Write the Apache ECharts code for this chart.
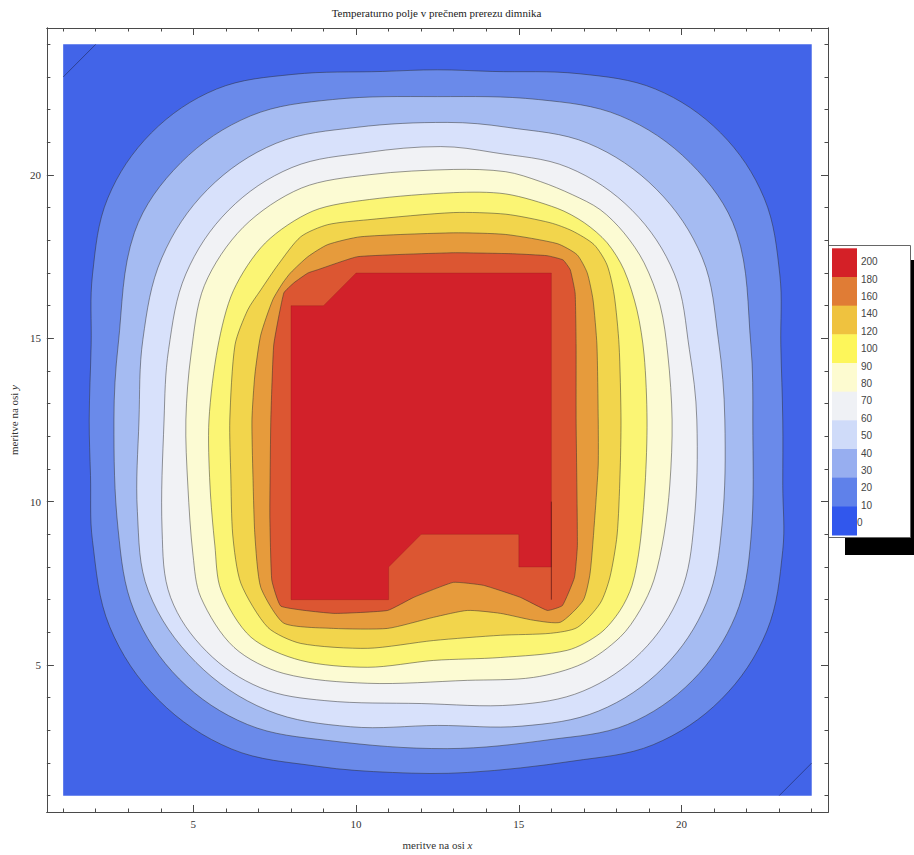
<!DOCTYPE html>
<html><head><meta charset="utf-8">
<script src="https://cdn.jsdelivr.net/npm/echarts@6/dist/echarts.min.js"></script>
<style>html,body{margin:0;padding:0;background:#fff}#c{width:914px;height:855px}</style>
</head><body><div id="c"></div>
<script>
// ---- data (axis units) ----
const titleText = 'Temperaturno polje v prečnem prerezu dimnika';
const xName = 'meritve na osi ';
const yName = 'meritve na osi ';
const majorTicks = [5, 10, 15, 20];
const minorTicks = [1,2,3,4,5,6,7,8,9,10,11,12,13,14,15,16,17,18,19,20,21,22,23,24];
const levels = [0, 20, 40, 60, 80, 100, 120, 140, 160, 180, 200];
const bandColors = ['#4264e8','#6a8aea','#a5bbf2','#d8e1fb','#f1f2f5','#fcfbd3','#fbf574','#f2d54c','#e69b3c','#dc5632','#d2212a'];

const domain = [[1,1],[1,24],[24,24],[24,1]];
const iso20 = [[1.80,12.50],[1.86,14.80],[1.90,16.94],[2.37,19.29],[3.71,21.29],[5.71,22.63],[8.06,23.08],[10.82,23.17],[12.50,23.22],[14.18,23.17],[16.85,23.10],[19.20,22.63],[21.20,21.29],[22.54,19.29],[23.02,16.94],[23.05,14.80],[23.11,12.50],[23.11,10.50],[23.11,8.51],[22.62,6.04],[21.22,3.95],[19.13,2.56],[16.67,2.06],[13.42,1.71],[11.12,1.71],[8.81,1.90],[6.17,2.43],[3.93,3.93],[2.43,6.17],[1.90,8.81],[1.84,10.80]];
const iso40 = [[2.56,12.50],[2.69,14.80],[3.19,18.24],[4.62,20.38],[6.76,21.81],[9.28,22.31],[12.50,22.40],[15.60,22.31],[18.12,21.81],[20.26,20.38],[21.69,18.24],[22.13,14.80],[22.19,12.50],[22.13,8.85],[21.66,6.51],[20.33,4.52],[18.34,3.18],[15.99,2.72],[12.80,2.44],[9.13,2.69],[6.66,3.18],[4.57,4.57],[3.18,6.66],[2.69,9.13]];
const iso60 = [[3.33,12.50],[3.45,14.97],[4.03,17.46],[5.44,19.56],[7.54,20.97],[10.03,21.46],[12.80,21.61],[14.64,21.46],[17.13,20.97],[19.23,19.56],[20.64,17.46],[21.13,14.97],[21.33,12.50],[21.24,9.26],[20.77,6.91],[19.44,4.92],[17.45,3.59],[15.10,3.13],[12.50,3.15],[9.83,3.11],[7.26,3.62],[5.08,5.08],[3.62,7.26],[3.28,9.70]];
const iso80 = [[4.10,12.50],[4.24,14.66],[4.77,16.97],[6.08,18.92],[8.03,20.23],[10.34,20.69],[12.60,20.87],[14.21,20.69],[16.52,20.23],[18.48,18.92],[19.78,16.97],[20.24,14.66],[20.47,12.50],[20.38,9.30],[19.96,7.18],[18.76,5.39],[16.97,4.20],[14.86,3.78],[12.00,3.82],[9.04,3.91],[7.07,4.30],[5.41,5.41],[4.30,7.07],[4.04,9.10]];
const iso100 = [[4.77,12.50],[4.93,14.52],[5.34,16.62],[6.53,18.40],[8.32,19.60],[10.42,20.01],[13.00,20.17],[14.60,20.10],[15.66,19.80],[16.64,19.40],[17.50,18.94],[18.23,18.23],[18.85,17.31],[19.34,16.02],[19.58,14.49],[19.71,12.50],[19.64,10.51],[19.46,8.98],[19.15,7.60],[18.72,6.67],[18.11,5.85],[16.98,5.05],[15.45,4.62],[13.42,4.53],[10.36,4.44],[7.78,4.74],[6.25,5.54],[5.23,7.07],[4.99,8.36],[4.83,10.51]];
const iso120 = [[5.48,12.50],[5.75,14.73],[6.23,16.46],[7.21,17.92],[8.68,18.90],[10.41,19.25],[13.00,19.46],[14.60,19.42],[16.18,18.98],[17.01,18.54],[17.71,17.93],[18.23,17.10],[18.63,15.87],[18.85,14.49],[18.94,12.50],[18.88,10.51],[18.72,8.67],[18.48,7.44],[18.11,6.67],[17.50,5.97],[16.49,5.45],[14.44,5.23],[12.38,5.14],[10.36,4.93],[8.30,5.14],[6.77,5.85],[5.85,7.29],[5.66,8.67],[5.51,10.51]];
const iso140 = [[6.12,12.50],[6.28,14.80],[6.67,15.87],[7.07,16.48],[7.60,17.25],[8.30,18.11],[9.13,18.48],[10.36,18.63],[13.00,18.85],[14.60,18.80],[15.96,18.54],[16.64,18.29],[17.31,17.87],[17.71,17.25],[17.93,16.33],[18.08,14.80],[18.14,12.50],[18.11,10.82],[18.02,8.98],[17.80,7.69],[17.50,6.89],[16.80,6.15],[15.97,5.97],[14.44,5.91],[12.38,5.75],[10.36,5.51],[8.30,5.66],[7.29,6.15],[6.46,7.50],[6.21,8.98],[6.15,10.82]];
const iso160 = [[6.80,12.50],[6.89,13.88],[7.07,15.10],[7.44,16.18],[7.75,16.70],[7.99,17.01],[8.52,17.50],[9.13,17.87],[10.14,18.11],[13.00,18.23],[14.60,18.18],[16.18,17.90],[16.79,17.56],[17.10,17.01],[17.28,16.18],[17.40,14.80],[17.44,12.50],[17.44,11.12],[17.34,9.59],[17.19,7.81],[16.98,6.98],[16.28,6.31],[15.45,6.37],[14.44,6.58],[13.42,6.67],[12.38,6.46],[10.97,6.12],[9.31,6.12],[7.78,6.28],[7.07,7.38],[6.89,8.98],[6.83,10.82]];
const iso180 = [[7.38,12.50],[7.47,14.80],[7.78,16.39],[8.09,16.70],[8.52,17.00],[8.82,17.10],[10.05,17.50],[13.00,17.62],[14.80,17.59],[15.87,17.53],[16.36,17.40],[16.58,17.10],[16.73,16.39],[16.76,14.80],[16.76,12.50],[16.80,8.66],[16.71,7.68],[16.34,6.82],[15.88,6.67],[15.05,7.07],[13.91,7.44],[12.99,7.53],[11.77,7.07],[10.97,6.67],[9.31,6.58],[7.69,6.80],[7.41,7.60],[7.35,9.59]];
const core200 = [[8,7],[8,16],[9,16],[10,17],[16,17],[16,8],[15,8],[15,9],[12,9],[11,8],[11,7]];
const cornerLineTL = [[1,23],[2,24]];
const cornerLineBR = [[23,1],[24,2]];
const coreEdgeLine = [[16,10],[16,7]];

const legendLabels = ['200','180','160','140','120','100','90','80','70','60','50','40','30','20','10','0'];
const legendColors = ['#d42027','#e07c35','#efc23f','#fdf65a','#fdfbd0','#eff1f5','#cfdbf9','#97aef0','#5f81ea','#3157ed'];

// ---- chart ----
const shapes = [domain, iso20, iso40, iso60, iso80, iso100, iso120, iso140, iso160, iso180, core200];
const smoothBy = [0, 0.35, 0.35, 0.35, 0.35, 0.32, 0.3, 0.25, 0.2, 0.12, 0];
const extraLines = [cornerLineTL, cornerLineBR, coreEdgeLine];

const AX = '#4a4a4a';
const SERIF = "'Liberation Serif','Times New Roman',serif";
function axis(kind, pos, ticks, len, withLabel) {
  const a = {
    type: 'value', position: pos, min: 0.5, max: 24.5, gridIndex: 0,
    axisLine: { show: true, onZero: false, lineStyle: { color: AX, width: 1 } },
    axisTick: { show: true, inside: true, length: len, customValues: ticks, lineStyle: { color: AX, width: 1 } },
    axisLabel: { show: withLabel, customValues: ticks, color: '#333', fontFamily: SERIF, fontSize: 11, margin: 6 },
    splitLine: { show: false }
  };
  if (withLabel) {
    a.nameLocation = 'middle';
    a.nameTextStyle = { fontFamily: SERIF, fontSize: 11, color: '#333', rich: { i: { fontFamily: SERIF, fontStyle: 'italic', fontSize: 11, color: '#333' } } };
    if (kind === 'x') { a.name = xName + '{i|x}'; a.nameGap = 27; }
    else { a.name = yName + '{i|y}'; a.nameGap = 24; a.nameRotate = 90; }
  }
  return a;
}

const chart = echarts.init(document.getElementById('c'), null, { renderer: 'svg', width: 914, height: 855 });

const graphic = [];
graphic.push({ type: 'text', x: 436.5, y: 13, style: { text: titleText, textAlign: 'center', textVerticalAlign: 'middle', font: "11px 'Liberation Serif', serif", fill: '#222' } });
graphic.push({ type: 'rect', shape: { x: 845, y: 260, width: 90, height: 295 }, style: { fill: '#000' } });
graphic.push({ type: 'rect', shape: { x: 828.5, y: 245.5, width: 82, height: 292 }, style: { fill: '#fff', stroke: '#666', lineWidth: 1 } });
const bh = (535 - 248.3) / legendColors.length;
legendColors.forEach((c, i) => {
  graphic.push({ type: 'rect', shape: { x: 832, y: 248.3 + i * bh, width: 25, height: bh + 0.5 }, style: { fill: c } });
});
const lh = (522.7 - 261.7) / (legendLabels.length - 1);
legendLabels.forEach((t, i) => {
  graphic.push({ type: 'text', x: t === '0' ? 857 : 861, y: 261.7 + i * lh, style: { text: t, textAlign: 'left', textVerticalAlign: 'middle', font: "10px 'Liberation Sans', Arial, sans-serif", fill: '#444' } });
});

chart.setOption({
  animation: false,
  backgroundColor: '#fff',
  grid: { left: 45, right: 86, top: 28, bottom: 43, containLabel: false },
  xAxis: [
    axis('x', 'bottom', majorTicks, 7, true),
    axis('x', 'bottom', minorTicks, 3.5, false),
    axis('x', 'top', majorTicks, 7, false),
    axis('x', 'top', minorTicks, 3.5, false)
  ],
  yAxis: [
    axis('y', 'left', majorTicks, 7, true),
    axis('y', 'left', minorTicks, 3.5, false),
    axis('y', 'right', majorTicks, 7, false),
    axis('y', 'right', minorTicks, 3.5, false)
  ],
  graphic: graphic,
  series: [
    {
      type: 'custom', xAxisIndex: 0, yAxisIndex: 0, clip: true, silent: true,
      data: shapes.map((s, i) => [s[0][0], s[0][1], i]),
      renderItem: function (params, api) {
        const i = api.value(2);
        const pts = shapes[i].map(p => api.coord(p));
        const isCore = i === shapes.length - 1;
        return {
          type: 'polygon',
          shape: { points: pts, smooth: smoothBy[i] },
          style: {
            fill: bandColors[i],
            stroke: i === 0 ? 'none' : (isCore ? 'rgba(110,20,20,0.25)' : 'rgba(45,45,45,0.55)'),
            lineWidth: i === 0 ? 0 : 0.9
          }
        };
      }
    },
    {
      type: 'custom', xAxisIndex: 0, yAxisIndex: 0, clip: true, silent: true,
      data: extraLines.map((l, i) => [l[0][0], l[0][1], i]),
      renderItem: function (params, api) {
        const i = api.value(2);
        return {
          type: 'polyline',
          shape: { points: extraLines[i].map(p => api.coord(p)) },
          style: { stroke: i === 2 ? 'rgba(90,20,20,0.7)' : 'rgba(30,40,90,0.6)', lineWidth: 1, fill: 'none' }
        };
      }
    }
  ]
});
</script>
</body></html>
